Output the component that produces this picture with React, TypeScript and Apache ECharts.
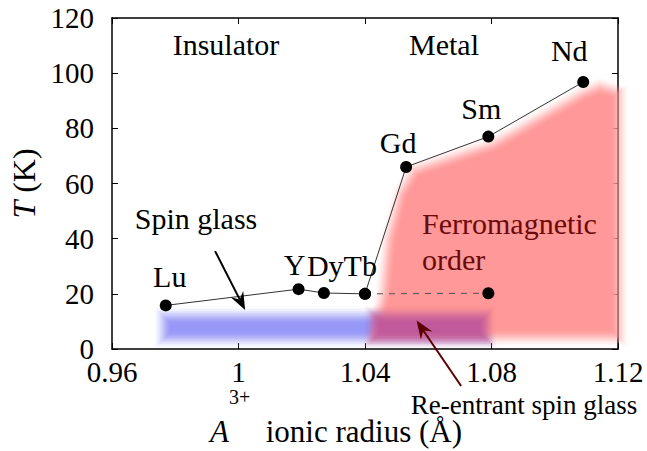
import React, { useEffect, useRef } from 'react';
import * as echarts from 'echarts';

// ---- data ----
const elements = ['Lu', 'Y', 'Dy', 'Tb', 'Gd', 'Sm', 'Nd'];
const ionicRadius = [0.977, 1.019, 1.027, 1.040, 1.053, 1.079, 1.109];
const transitionT = [15.8, 21.7, 20.3, 20.0, 66.0, 77.0, 96.8];
const pointLabels = ['Lu', 'Y', 'DyTb', '', 'Gd', 'Sm', 'Nd'];

const reentrantRadius = [1.040, 1.079];
const reentrantT = [20.0, 20.2];

const xMin = 0.96;
const xMax = 1.12;
const xStep = 0.04;
const yMin = 0;
const yMax = 120;
const yStep = 20;

// phase regions (data coordinates)
const ferroRegionX = [1.0425, 1.0457, 1.0473, 1.0511, 1.0555, 1.0805, 1.1088, 1.1143, 1.1205, 1.1205];
const ferroRegionY = [4.0, 20.3, 39.5, 56.6, 64.9, 74.3, 92.8, 95.4, 93.2, 4.0];
const spinGlassBandX = [0.976, 1.0786];
const spinGlassBandY = [3.3, 12.3];
const reentrantBandX = [1.0425, 1.0786];
const reentrantBandY = [3.3, 12.6];

// annotation arrows: [x from, y from, x to, y to]
const spinGlassArrow = [0.9926, 35.5, 1.0021, 14.1];
const reentrantArrow = [1.0704, -13.4, 1.0563, 10.3];

// ---- styles ----
const FONT = 'Liberation Serif';
const labelOffsets = [[4, -29], [-4, -25], [18, -28], [0, 0], [-8, -24], [-7, -28], [-14, -31]];
const regionColors = ['#9898f8', '#ff9898', '#c05a9c'];
const arrowColors = ['#000000', '#5a0000'];
const SOFT_RADIUS = 9;
const SOFT_LAYERS = 12;

function rectPoly(xs: number[], ys: number[]) {
  return [
    [xs[0], ys[0]],
    [xs[1], ys[0]],
    [xs[1], ys[1]],
    [xs[0], ys[1]],
  ];
}

function offsetPoly(pts: number[][], d: number) {
  const n = pts.length;
  let area = 0;
  for (let i = 0; i < n; i++) {
    const a = pts[i];
    const b = pts[(i + 1) % n];
    area += a[0] * b[1] - b[0] * a[1];
  }
  const s = area > 0 ? 1 : -1;
  const normals: number[][] = [];
  for (let i = 0; i < n; i++) {
    const a = pts[i];
    const b = pts[(i + 1) % n];
    const dx = b[0] - a[0];
    const dy = b[1] - a[1];
    const len = Math.sqrt(dx * dx + dy * dy) || 1;
    normals.push([(s * dy) / len, (-s * dx) / len]);
  }
  return pts.map((p, i) => {
    const n1 = normals[(i - 1 + n) % n];
    const n2 = normals[i];
    let mx = n1[0] + n2[0];
    let my = n1[1] + n2[1];
    const ml = Math.sqrt(mx * mx + my * my);
    if (ml < 1e-6) {
      mx = n2[0];
      my = n2[1];
    } else {
      mx /= ml;
      my /= ml;
    }
    const c = Math.max(mx * n1[0] + my * n1[1], 0.35);
    const k = d / c;
    return [p[0] + mx * k, p[1] + my * k];
  });
}

function softPolygon(pts: number[][], color: string) {
  const children: any[] = [];
  let prevA = 0;
  for (let m = 1; m <= SOFT_LAYERS; m++) {
    const d = SOFT_RADIUS * (1 - (2 * (m - 1)) / (SOFT_LAYERS - 1));
    const A = 0.5 - 0.5 * Math.cos((Math.PI * m) / SOFT_LAYERS);
    const a = prevA >= 1 ? 1 : 1 - (1 - A) / (1 - prevA);
    prevA = A;
    children.push({
      type: 'polygon',
      shape: { points: offsetPoly(pts, d) },
      style: { fill: color, opacity: Math.min(1, Math.max(0, a)) },
    });
  }
  return { type: 'group', children };
}

export default function App() {
  const ref = useRef<HTMLDivElement>(null);

  useEffect(() => {
    if (!ref.current) return;
    const chart = echarts.init(ref.current, undefined, { renderer: 'svg' });

    const regions = [
      rectPoly(spinGlassBandX, spinGlassBandY),
      ferroRegionX.map((x, i) => [x, ferroRegionY[i]]),
      rectPoly(reentrantBandX, reentrantBandY),
    ];

    const mainData = ionicRadius.map((x, i) => ({
      name: elements[i],
      value: [x, transitionT[i]],
      label: {
        show: pointLabels[i] !== '',
        formatter: pointLabels[i],
        offset: labelOffsets[i],
      },
    }));

    const axisLineStyle = { color: '#000', width: 1.5 };
    const tickStyle = { color: '#000', width: 1 };
    const labelFmt = (v: number) => String(+v.toFixed(2));

    const option: any = {
      animation: false,
      backgroundColor: '#fff',
      textStyle: { fontFamily: FONT },
      grid: { left: 112, right: 29, top: 18, bottom: 102, containLabel: false, outerBoundsMode: 'none' },
      xAxis: [
        {
          type: 'value',
          position: 'bottom',
          min: xMin,
          max: xMax,
          interval: xStep,
          axisLine: { show: true, onZero: false, lineStyle: axisLineStyle },
          axisTick: { show: true, inside: true, length: 6, lineStyle: tickStyle },
          splitLine: { show: false },
          axisLabel: {
            color: '#000',
            fontSize: 29,
            fontFamily: FONT,
            margin: 8,
            formatter: labelFmt,
          },
          name: '{i|A}{sup|3+}{n|  ionic radius (Å)}',
          nameLocation: 'middle',
          nameGap: 38,
          nameMoveOverlap: false,
          nameTextStyle: {
            color: '#000',
            fontSize: 31,
            fontFamily: FONT,
            padding: [0, 58, 0, 0],
            rich: {
              i: { fontStyle: 'italic', fontSize: 31, fontFamily: FONT, color: '#000', lineHeight: 31, verticalAlign: 'bottom' },
              n: { fontSize: 31, fontFamily: FONT, color: '#000', lineHeight: 31, verticalAlign: 'bottom' },
              sup: { fontSize: 20, fontFamily: FONT, color: '#000', padding: [0, 0, 40, 0], verticalAlign: 'top' },
            },
          },
        },
        {
          type: 'value',
          position: 'top',
          min: xMin,
          max: xMax,
          interval: xStep,
          axisLine: { show: true, onZero: false, lineStyle: axisLineStyle },
          axisTick: { show: true, inside: true, length: 6, lineStyle: tickStyle },
          axisLabel: { show: false },
          splitLine: { show: false },
        },
      ],
      yAxis: [
        {
          type: 'value',
          position: 'left',
          min: yMin,
          max: yMax,
          interval: yStep,
          axisLine: { show: true, onZero: false, lineStyle: axisLineStyle },
          axisTick: { show: true, inside: true, length: 6, lineStyle: tickStyle },
          splitLine: { show: false },
          axisLabel: { color: '#000', fontSize: 29, fontFamily: FONT, margin: 18 },
          name: '{i|T} (K)',
          nameLocation: 'middle',
          nameRotate: 90,
          nameGap: 72,
          nameMoveOverlap: false,
          nameTextStyle: {
            color: '#000',
            fontSize: 32,
            fontFamily: FONT,
            rich: {
              i: { fontStyle: 'italic', fontSize: 32, fontFamily: FONT, color: '#000' },
            },
          },
        },
        {
          type: 'value',
          position: 'right',
          min: yMin,
          max: yMax,
          interval: yStep,
          axisLine: { show: true, onZero: false, lineStyle: axisLineStyle },
          axisTick: { show: true, inside: true, length: 6, lineStyle: tickStyle },
          axisLabel: { show: false },
          splitLine: { show: false },
        },
      ],
      series: [
        {
          type: 'custom',
          name: 'regions',
          clip: false,
          z: 1,
          silent: true,
          data: regions.map((r) => r[0]),
          renderItem: (params: any, api: any) => {
            const poly = regions[params.dataIndex];
            const pts = poly.map((p) => api.coord(p));
            return softPolygon(pts, regionColors[params.dataIndex]);
          },
        },
        {
          type: 'line',
          name: 'reentrant',
          z: 3,
          data: reentrantRadius.map((x, i) => [x, reentrantT[i]]),
          symbol: 'circle',
          symbolSize: 12,
          itemStyle: { color: '#000' },
          lineStyle: { color: '#555', width: 1, type: [6, 6] },
        },
        {
          type: 'line',
          name: 'transition',
          z: 4,
          data: mainData,
          symbol: 'circle',
          symbolSize: 12,
          itemStyle: { color: '#000' },
          lineStyle: { color: '#333', width: 1 },
          label: {
            show: true,
            position: 'inside',
            color: '#000',
            fontSize: 30,
            fontFamily: FONT,
          },
        },
        {
          type: 'custom',
          name: 'arrows',
          clip: false,
          z: 5,
          silent: true,
          data: [spinGlassArrow, reentrantArrow],
          encode: { x: [0, 2], y: [1, 3] },
          renderItem: (params: any, api: any) => {
            const p1 = api.coord([api.value(0), api.value(1)]);
            const p2 = api.coord([api.value(2), api.value(3)]);
            const dx = p2[0] - p1[0];
            const dy = p2[1] - p1[1];
            const len = Math.sqrt(dx * dx + dy * dy);
            const ux = dx / len;
            const uy = dy / len;
            const nx = -uy;
            const ny = ux;
            const L = 18;
            const W = 7;
            const N = 12;
            const c = arrowColors[params.dataIndex];
            const back = [p2[0] - ux * L, p2[1] - uy * L];
            const notch = [p2[0] - ux * N, p2[1] - uy * N];
            return {
              type: 'group',
              children: [
                {
                  type: 'line',
                  shape: { x1: p1[0], y1: p1[1], x2: notch[0], y2: notch[1] },
                  style: { stroke: c, lineWidth: 2 },
                },
                {
                  type: 'polygon',
                  shape: {
                    points: [
                      p2,
                      [back[0] + nx * W, back[1] + ny * W],
                      notch,
                      [back[0] - nx * W, back[1] - ny * W],
                    ],
                  },
                  style: { fill: c },
                },
              ],
            };
          },
        },
      ],
      graphic: [
        { type: 'text', x: 226, y: 44, z: 10, style: { text: 'Insulator', fontSize: 30, fontFamily: FONT, fill: '#000', align: 'center', verticalAlign: 'middle' } },
        { type: 'text', x: 444, y: 44, z: 10, style: { text: 'Metal', fontSize: 30, fontFamily: FONT, fill: '#000', align: 'center', verticalAlign: 'middle' } },
        { type: 'text', x: 196, y: 218, z: 10, style: { text: 'Spin glass', fontSize: 30, fontFamily: FONT, fill: '#000', align: 'center', verticalAlign: 'middle' } },
        { type: 'text', x: 422, y: 223, z: 10, style: { text: 'Ferromagnetic', fontSize: 30, fontFamily: FONT, fill: '#6a0a0a', align: 'left', verticalAlign: 'middle' } },
        { type: 'text', x: 422, y: 259, z: 10, style: { text: 'order', fontSize: 30, fontFamily: FONT, fill: '#6a0a0a', align: 'left', verticalAlign: 'middle' } },
        { type: 'text', x: 524, y: 405, z: 10, style: { text: 'Re-entrant spin glass', fontSize: 27, fontFamily: FONT, fill: '#000', align: 'center', verticalAlign: 'middle' } },
      ],
    };

    chart.setOption(option);
    return () => chart.dispose();
  }, []);

  return (
    <div
      ref={ref}
      style={{ position: 'absolute', left: 0, top: 0, width: 647, height: 451 }}
    />
  );
}
